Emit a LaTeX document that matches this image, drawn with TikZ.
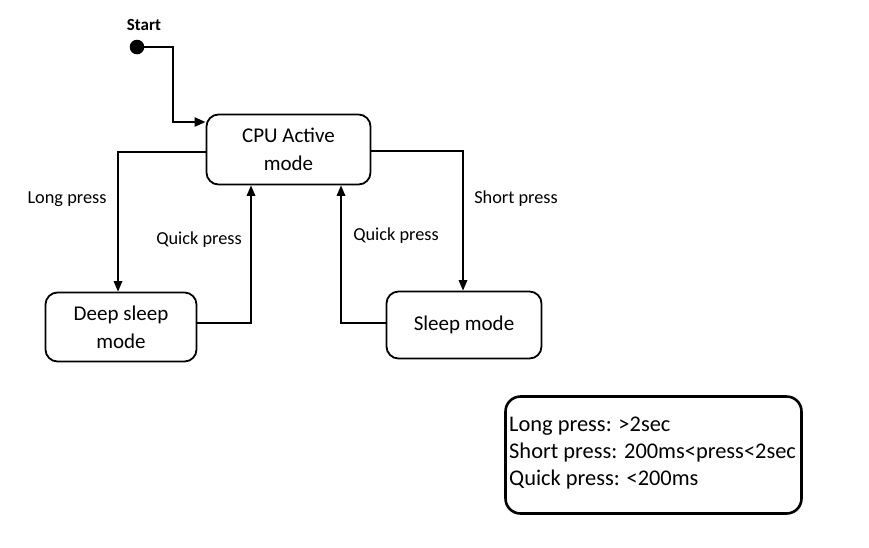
\documentclass[tikz,border=0pt]{standalone}
\usepackage{fontspec}
\setmainfont{Carlito}
\usetikzlibrary{arrows.meta}
\begin{document}
\begin{tikzpicture}[x=1pt,y=-1pt,
  state/.style={draw, line width=1.8pt, rounded corners=12pt, align=center,
    font=\fontsize{21}{28}\selectfont, inner sep=0pt},
  lbl/.style={font=\fontsize{18.3}{22}\selectfont, inner sep=0pt},
  legtxt/.style={font=\fontsize{22.4}{27}\selectfont, inner sep=0pt, anchor=base west},
  conn/.style={line width=1.7pt, -{Triangle[length=10.5pt,width=8.5pt]}},
]
\useasboundingbox (0,0) rectangle (869,547);
\fill[white] (0,0) rectangle (869,547);

% states
\node[state, minimum width=164pt, minimum height=70pt] (cpu) at (288.5,149.5) {CPU Active\\mode};
\node[state, minimum width=151pt, minimum height=69pt] (deep) at (121,327) {Deep sleep\\mode};
\node[state, minimum width=155pt, minimum height=67pt] (sleep) at (464,325) {Sleep mode};

% start
\fill (137,47) circle (7.3pt);
\coordinate (dot) at (137,47);
\node[font=\bfseries\fontsize{17}{20}\selectfont, inner sep=0pt] (start) at (144,25) {Start};
\coordinate (sa) at (173,122);
\draw[line width=2.4pt, -{Triangle[length=11pt,width=9pt]}] (dot) -| (sa) -- (sa -| cpu.west);

% transitions
\coordinate (lp) at (118,152);
\draw[conn] (cpu.west |- lp) -- (lp) -- (lp |- deep.north);
\coordinate (sp) at (463,151);
\draw[conn] (cpu.east |- sp) -- (sp) -- (sp |- sleep.north);
\coordinate (ql) at (251,323);
\draw[conn] (deep.east |- ql) -- (ql) -- (ql |- cpu.south);
\coordinate (qr) at (341,323);
\draw[conn] (sleep.west |- qr) -- (qr) -- (qr |- cpu.south);

% labels
\node[lbl] (l1) at (67,199) {Long press};
\node[lbl] (l2) at (199,240) {Quick press};
\node[lbl] (l3) at (396,236) {Quick press};
\node[lbl] (l4) at (516,199) {Short press};

% legend
\node[draw, line width=2.6pt, rounded corners=15pt, minimum width=296pt, minimum height=117pt, inner sep=0pt] (legend) at (653.5,455) {};
\node[legtxt] (g1) at (509,431) {Long press: >2sec};
\node[legtxt] (g2) at (509,458) {Short press: 200ms<press<2sec};
\node[legtxt] (g3) at (509,485) {Quick press: <200ms};
\end{tikzpicture}
\end{document}
